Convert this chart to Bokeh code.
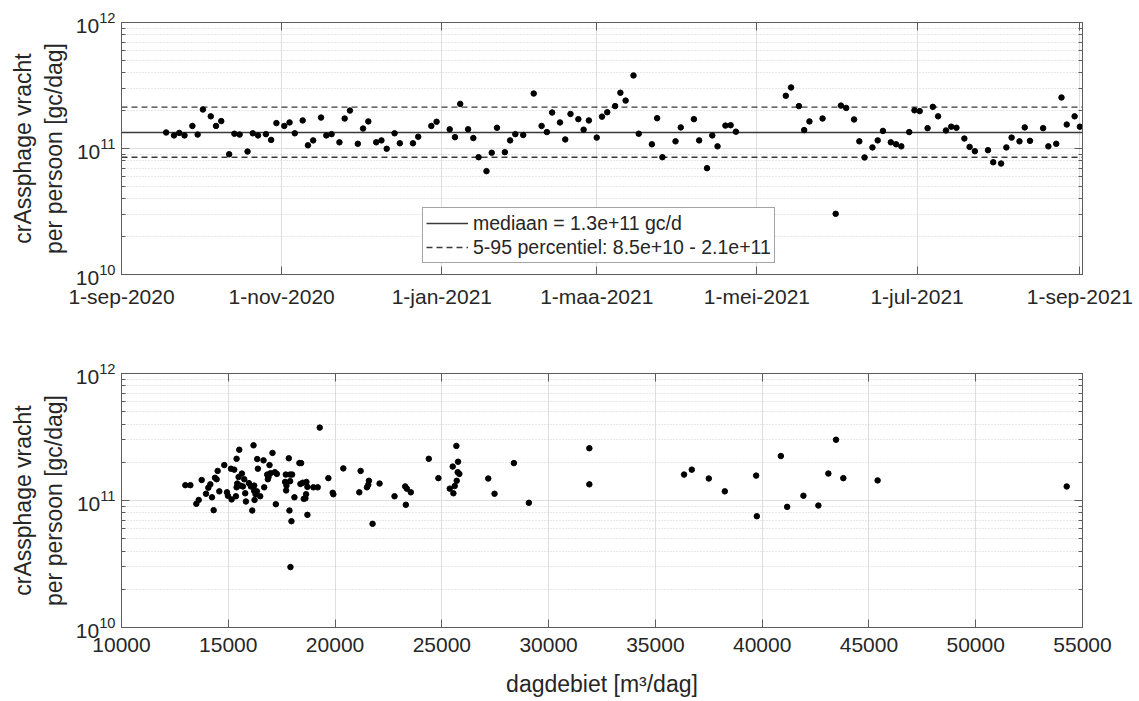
from datetime import datetime, timezone

import pandas as pd
from bokeh.core.properties import value
from bokeh.embed import file_html
from bokeh.layouts import column
from bokeh.models import (ColumnDataSource, CustomJSTickFormatter, DatetimeAxis,
                          FixedTicker, Legend, LegendItem, LinearAxis, LogAxis,
                          Range1d)
from bokeh.plotting import figure
from bokeh.resources import INLINE

# ---------------------------------------------------------------------------
# Data: crAssphage load per person (gc/day)
# ---------------------------------------------------------------------------
sample_dates = [
    "2020-09-18", "2020-09-21", "2020-09-23", "2020-09-25", "2020-09-28", "2020-09-30",
    "2020-10-02", "2020-10-05", "2020-10-07", "2020-10-09", "2020-10-12", "2020-10-14",
    "2020-10-16", "2020-10-19", "2020-10-21", "2020-10-23", "2020-10-26", "2020-10-28",
    "2020-10-30", "2020-11-02", "2020-11-04", "2020-11-06", "2020-11-09", "2020-11-11",
    "2020-11-13", "2020-11-16", "2020-11-18", "2020-11-20", "2020-11-23", "2020-11-25",
    "2020-11-27", "2020-11-30", "2020-12-02", "2020-12-04", "2020-12-07", "2020-12-09",
    "2020-12-11", "2020-12-14", "2020-12-16", "2020-12-21", "2020-12-23", "2020-12-28",
    "2020-12-30", "2021-01-04", "2021-01-06", "2021-01-08", "2021-01-11", "2021-01-13",
    "2021-01-15", "2021-01-18", "2021-01-20", "2021-01-22", "2021-01-25", "2021-01-27",
    "2021-01-29", "2021-02-01", "2021-02-05", "2021-02-08", "2021-02-10", "2021-02-12",
    "2021-02-15", "2021-02-17", "2021-02-19", "2021-02-22", "2021-02-24", "2021-02-26",
    "2021-03-01", "2021-03-03", "2021-03-05", "2021-03-08", "2021-03-10", "2021-03-12",
    "2021-03-15", "2021-03-17", "2021-03-22", "2021-03-24", "2021-03-26", "2021-03-31",
    "2021-04-02", "2021-04-07", "2021-04-09", "2021-04-12", "2021-04-14", "2021-04-16",
    "2021-04-19", "2021-04-21", "2021-04-23", "2021-05-12", "2021-05-14", "2021-05-17",
    "2021-05-19", "2021-05-21", "2021-05-26", "2021-05-31", "2021-06-02", "2021-06-04",
    "2021-06-07", "2021-06-09", "2021-06-11", "2021-06-14", "2021-06-16", "2021-06-18",
    "2021-06-21", "2021-06-23", "2021-06-25", "2021-06-28", "2021-06-30", "2021-07-02",
    "2021-07-05", "2021-07-07", "2021-07-09", "2021-07-12", "2021-07-14", "2021-07-16",
    "2021-07-19", "2021-07-21", "2021-07-23", "2021-07-28", "2021-07-30", "2021-08-02",
    "2021-08-04", "2021-08-06", "2021-08-09", "2021-08-11", "2021-08-13", "2021-08-18",
    "2021-08-20", "2021-08-23", "2021-08-25", "2021-08-27", "2021-08-30", "2021-09-01",
]
load_per_person = [
    1.34e11, 1.27e11, 1.33e11, 1.27e11, 1.51e11, 1.29e11,
    2.04e11, 1.80e11, 1.51e11, 1.65e11, 9.00e10, 1.31e11,
    1.29e11, 9.46e10, 1.32e11, 1.27e11, 1.30e11, 1.17e11,
    1.59e11, 1.51e11, 1.61e11, 1.32e11, 1.67e11, 1.06e11,
    1.16e11, 1.76e11, 1.27e11, 1.30e11, 1.12e11, 1.73e11,
    2.00e11, 1.09e11, 1.44e11, 1.64e11, 1.12e11, 1.16e11,
    9.95e10, 1.32e11, 1.10e11, 1.10e11, 1.24e11, 1.51e11,
    1.63e11, 1.42e11, 1.23e11, 2.26e11, 1.42e11, 1.21e11,
    8.53e10, 6.61e10, 9.25e10, 1.46e11, 9.35e10, 1.16e11,
    1.30e11, 1.28e11, 2.73e11, 1.51e11, 1.35e11, 1.93e11,
    1.61e11, 1.18e11, 1.88e11, 1.71e11, 1.41e11, 1.67e11,
    1.22e11, 1.79e11, 1.94e11, 2.17e11, 2.77e11, 2.40e11,
    3.80e11, 1.31e11, 1.08e11, 1.74e11, 8.53e10, 1.14e11,
    1.47e11, 1.71e11, 1.16e11, 6.98e10, 1.27e11, 1.04e11,
    1.52e11, 1.53e11, 1.36e11, 2.62e11, 3.05e11, 2.17e11,
    1.40e11, 1.64e11, 1.73e11, 3.03e10, 2.19e11, 2.10e11,
    1.70e11, 1.14e11, 8.49e10, 1.02e11, 1.16e11, 1.38e11,
    1.12e11, 1.08e11, 1.04e11, 1.35e11, 2.01e11, 1.98e11,
    1.45e11, 2.14e11, 1.80e11, 1.39e11, 1.49e11, 1.46e11,
    1.20e11, 1.03e11, 9.52e10, 9.70e10, 7.78e10, 7.60e10,
    1.02e11, 1.22e11, 1.14e11, 1.47e11, 1.15e11, 1.45e11,
    1.04e11, 1.09e11, 2.54e11, 1.55e11, 1.80e11, 1.49e11,
]

# Daily flow (m3/day) against the load per person
daily_flow = [
    12990, 13225, 13505, 13614, 13754, 13957, 14066, 14159, 14237, 14315,
    14377, 14455, 14502, 14580, 14813, 14938, 14984, 15125, 15156, 15280,
    15358, 15389, 15389, 15420, 15483, 15514, 15561, 15638, 15685, 15747,
    15794, 15825, 15965, 16059, 16121, 16183, 16214, 16214, 16230, 16277,
    16339, 16355, 16386, 16495, 16650, 16682, 16822, 16853, 16884, 16931,
    16977, 17071, 17180, 17227, 17273, 17662, 17694, 17709, 17725, 17834,
    17865, 17896, 17896, 17912, 17958, 17989, 18098, 18332, 18379, 18410,
    18488, 18534, 18612, 18643, 18659, 18706, 18706, 18986, 19188, 19282,
    19687, 19889, 19920, 20387, 21135, 21197, 21493, 21555, 21586, 21757,
    22084, 22785, 23283, 23314, 23361, 23548, 24389, 24840, 25370, 25510,
    25541, 25603, 25681, 25697, 25743, 25759, 25821, 27173, 27468, 28373,
    29076, 31908, 31908, 36343, 36704, 37501, 38251, 39718, 39750, 40875,
    41170, 41932, 42632, 43099, 43459, 43800, 45406, 54261,
]
flow_load = [
    1.32e11, 1.32e11, 9.41e10, 1.01e11, 1.45e11, 1.13e11, 1.26e11, 1.34e11, 1.06e11, 8.39e10,
    1.51e11, 1.47e11, 1.71e11, 1.18e11, 1.90e11, 1.16e11, 1.09e11, 1.78e11, 1.02e11, 1.75e11,
    1.08e11, 2.13e11, 1.27e11, 1.36e11, 1.53e11, 2.51e11, 1.31e11, 1.63e11, 1.29e11, 1.47e11,
    1.14e11, 9.82e10, 1.37e11, 1.29e11, 8.34e10, 2.72e11, 1.31e11, 1.19e11, 1.01e11, 1.12e11,
    1.18e11, 2.12e11, 1.78e11, 1.08e11, 2.07e11, 1.27e11, 1.60e11, 1.47e11, 1.53e11, 1.90e11,
    1.64e11, 2.37e11, 1.67e11, 9.35e10, 1.62e11, 1.40e11, 1.60e11, 1.20e11, 1.31e11, 2.15e11,
    8.34e10, 1.60e11, 1.42e11, 2.99e10, 6.87e10, 1.60e11, 1.06e11, 1.97e11, 1.35e11, 1.97e11,
    1.38e11, 1.03e11, 1.04e11, 1.12e11, 1.40e11, 7.71e10, 1.28e11, 1.27e11, 1.27e11, 3.75e11,
    1.50e11, 1.15e11, 1.12e11, 1.79e11, 1.16e11, 1.71e11, 1.27e11, 1.33e11, 1.43e11, 6.55e10,
    1.36e11, 1.08e11, 1.29e11, 9.25e10, 1.24e11, 1.16e11, 2.13e11, 1.50e11, 1.24e11, 1.85e11,
    1.14e11, 1.30e11, 2.69e11, 1.43e11, 1.67e11, 2.02e11, 1.62e11, 1.49e11, 1.13e11, 1.97e11,
    9.59e10, 2.58e11, 1.34e11, 1.60e11, 1.75e11, 1.49e11, 1.18e11, 1.57e11, 7.52e10, 2.24e11,
    8.91e10, 1.09e11, 9.13e10, 1.63e11, 3.01e11, 1.50e11, 1.44e11, 1.29e11,
]

# Summary statistics of the load per person
median_load = 1.34e11
p05_load = 8.53e10
p95_load = 2.13e11

# Axis ticks
date_ticks = ["2020-09-01", "2020-11-01", "2021-01-01", "2021-03-01",
              "2021-05-01", "2021-07-01", "2021-09-01"]
dutch_months = ["jan", "feb", "maa", "apr", "mei", "jun",
                "jul", "aug", "sep", "okt", "nov", "dec"]
flow_ticks = [10000, 15000, 20000, 25000, 30000, 35000, 40000, 45000, 50000, 55000]
load_major = [1e10, 1e11, 1e12]
load_minor = [m * 10.0 ** e for e in (10, 11) for m in range(2, 10)]

date_start = datetime(2020, 9, 1)
date_end = datetime(2021, 9, 2)

# ---------------------------------------------------------------------------
# Styling
# ---------------------------------------------------------------------------
FONT = "Liberation Sans"
TEXT = "#262626"
FRAME = "#5c5c5c"
GRID = "#dedede"
MINOR_GRID = "#cfcfcf"
TICK_PX = "21px"
LABEL_PX = "23px"
Y_LABEL = "crAssphage vracht\nper persoon [gc/dag]"


def to_ms(day):
    return datetime.strptime(day, "%Y-%m-%d").replace(tzinfo=timezone.utc).timestamp() * 1000


date_tick_ms = [to_ms(d) for d in date_ticks]
date_formatter = CustomJSTickFormatter(args=dict(months=dutch_months), code="""
    const d = new Date(tick);
    return d.getUTCDate() + "-" + months[d.getUTCMonth()] + "-" + d.getUTCFullYear();
""")


def style_axis(ax, labels=True):
    ax.axis_line_color = FRAME
    ax.major_tick_line_color = FRAME
    ax.minor_tick_line_color = FRAME
    ax.major_tick_in = 8
    ax.major_tick_out = 0
    ax.minor_tick_in = 4
    ax.minor_tick_out = 0
    if labels:
        ax.major_label_text_font = FONT
        ax.major_label_text_font_size = TICK_PX
        ax.major_label_text_color = TEXT
        ax.axis_label_text_font = FONT
        ax.axis_label_text_font_size = LABEL_PX
        ax.axis_label_text_font_style = "normal"
        ax.axis_label_text_color = TEXT
    else:
        ax.major_label_text_color = None
        ax.major_label_text_font_size = "0px"
        ax.major_label_standoff = 0


def style_frame(p):
    p.outline_line_color = FRAME
    p.outline_line_width = 1
    p.xgrid.grid_line_color = GRID
    p.ygrid.grid_line_color = GRID
    p.ygrid.minor_grid_line_color = MINOR_GRID
    p.ygrid.minor_grid_line_dash = "1 2"
    p.background_fill_color = "white"
    p.border_fill_color = "white"


def setup_load_axes(p):
    yax = p.yaxis[0]
    yax.ticker = FixedTicker(ticks=load_major, minor_ticks=load_minor)
    yax.axis_label = Y_LABEL
    yax.axis_label_standoff = 6
    yax.major_label_standoff = 6
    style_axis(yax)
    right = LogAxis(ticker=FixedTicker(ticks=load_major, minor_ticks=load_minor))
    style_axis(right, labels=False)
    p.add_layout(right, "right")


# ---------------------------------------------------------------------------
# Top panel: load per person over time
# ---------------------------------------------------------------------------
p1 = figure(width=1139, height=330, x_axis_type="datetime", y_axis_type="log",
            x_range=Range1d(date_start, date_end), y_range=Range1d(1e10, 1e12),
            output_backend="svg", toolbar_location=None,
            min_border_left=121, min_border_right=57,
            min_border_top=22, min_border_bottom=56)
style_frame(p1)

xax = p1.xaxis[0]
xax.ticker = FixedTicker(ticks=date_tick_ms)
xax.formatter = date_formatter
xax.major_label_standoff = 10
style_axis(xax)
xax.minor_tick_line_color = None

top_ax = DatetimeAxis(ticker=FixedTicker(ticks=date_tick_ms), formatter=date_formatter)
style_axis(top_ax, labels=False)
top_ax.minor_tick_line_color = None
p1.add_layout(top_ax, "above")
setup_load_axes(p1)

time_src = ColumnDataSource(dict(date=pd.to_datetime(sample_dates), load=load_per_person))

med_line = p1.line(x=[date_start, date_end], y=[median_load, median_load],
                   line_color="#3a3a3a", line_width=1.4)
hi_line = p1.line(x=[date_start, date_end], y=[p95_load, p95_load],
                  line_color="#3a3a3a", line_width=1.4, line_dash="6 4")
lo_line = p1.line(x=[date_start, date_end], y=[p05_load, p05_load],
                  line_color="#3a3a3a", line_width=1.4, line_dash="6 4")
p1.scatter(x="date", y="load", source=time_src, size=5.5,
           fill_color="black", line_color="black")

legend = Legend(items=[
    LegendItem(label=value(f"mediaan = {median_load:.1e} gc/d"), renderers=[med_line]),
    LegendItem(label=value(f"5-95 percentiel: {p05_load:.1e} - {p95_load:.1e}"),
               renderers=[hi_line]),
], location=(301, 11))
legend.label_text_font = FONT
legend.label_text_font_size = "19.5px"
legend.label_text_color = TEXT
legend.glyph_width = 42
legend.glyph_height = 24
legend.label_height = 24
legend.label_standoff = 5
legend.spacing = 0
legend.padding = 3
legend.margin = 0
legend.border_line_color = "#4a4a4a"
legend.border_line_width = 1
legend.background_fill_color = "white"
legend.background_fill_alpha = 1.0
p1.add_layout(legend)

# ---------------------------------------------------------------------------
# Bottom panel: load per person against daily flow
# ---------------------------------------------------------------------------
p2 = figure(width=1139, height=371, y_axis_type="log",
            x_range=Range1d(10000, 55000), y_range=Range1d(1e10, 1e12),
            output_backend="svg", toolbar_location=None,
            min_border_left=121, min_border_right=57,
            min_border_top=43, min_border_bottom=74)
style_frame(p2)

fax = p2.xaxis[0]
fax.ticker = FixedTicker(ticks=flow_ticks)
fax.axis_label = "dagdebiet [m³/dag]"
fax.major_label_standoff = 10
fax.axis_label_standoff = 16
style_axis(fax)
fax.minor_tick_line_color = None

top_flow = LinearAxis(ticker=FixedTicker(ticks=flow_ticks))
style_axis(top_flow, labels=False)
top_flow.minor_tick_line_color = None
p2.add_layout(top_flow, "above")
setup_load_axes(p2)

flow_src = ColumnDataSource(dict(flow=daily_flow, load=flow_load))
p2.scatter(x="flow", y="load", source=flow_src, size=5.5,
           fill_color="black", line_color="black")

layout = column(p1, p2, spacing=0)
open("out.html", "w").write(file_html(layout, INLINE, "crAssphage vracht"))
